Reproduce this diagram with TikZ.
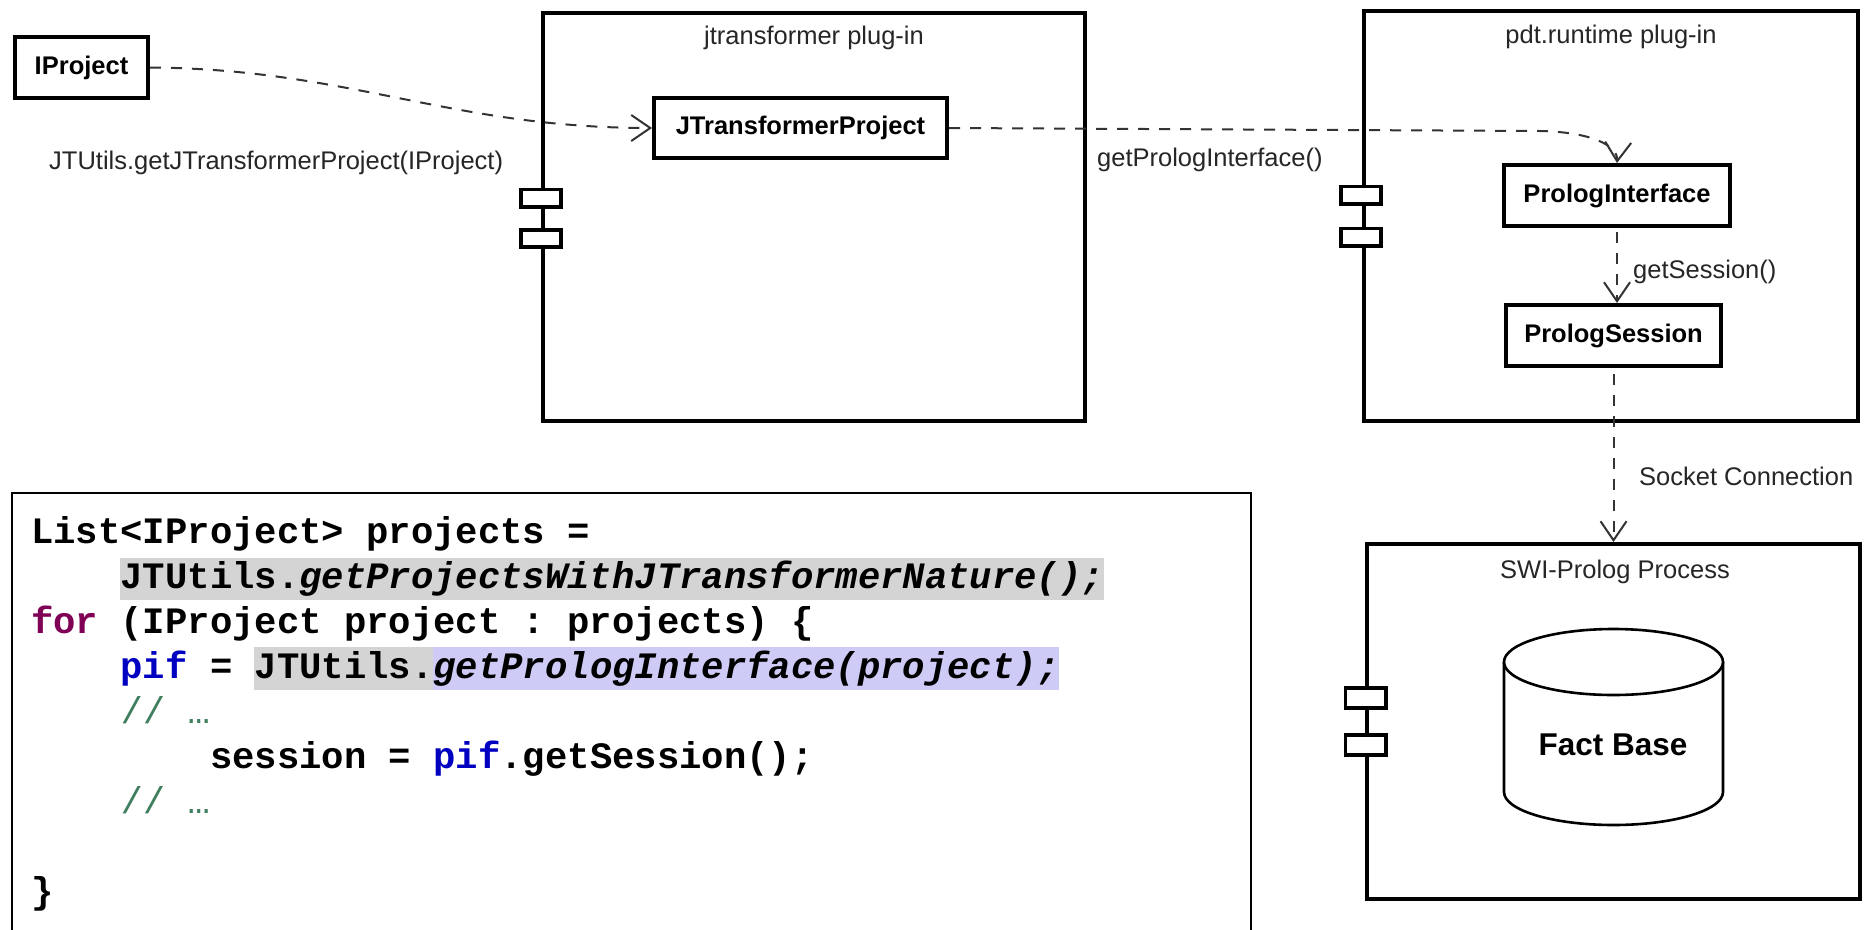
\documentclass[tikz,border=0pt]{standalone}
\usepackage{fontspec}
\setmainfont{Liberation Sans}
\setmonofont{Liberation Mono}
\usetikzlibrary{arrows.meta}

\definecolor{kwcol}{HTML}{7F0055}
\definecolor{fieldcol}{HTML}{0000C0}
\definecolor{cmtcol}{HTML}{3F7F5F}
\definecolor{hlgray}{HTML}{D4D4D4}
\definecolor{hlblue}{HTML}{CECCF6}

\newcommand\umltext{\fontsize{25.5pt}{30pt}\selectfont}
\newcommand\codetext{\fontsize{37.25pt}{45pt}\selectfont\ttfamily\bfseries}

\begin{document}
\begin{tikzpicture}[x=1pt, y=-1pt,
  component/.style={draw, line width=3.6pt, inner sep=0pt},
  compname/.style={font=\umltext, text=black!85, inner sep=0pt},
  classbox/.style={draw, line width=3.6pt, font=\umltext\bfseries, inner sep=0pt},
  tab/.style={draw, fill=white, line width=3.6pt, minimum width=40.4pt, minimum height=17.4pt, inner sep=0pt},
  dep/.style={draw=black!80, line width=2pt, dash pattern=on 11pt off 10pt,
    -{Straight Barb[length=19pt, width=26pt]}},
  lbl/.style={font=\umltext, text=black!85, inner sep=0pt, anchor=west},
  code/.style={font=\codetext, inner sep=0pt, anchor=base west},
  dbline/.style={line width=2.6pt, fill=white},
]
\path[use as bounding box, fill=white] (0,0) rectangle (1868,929);

% ---------- source listing ----------
\fill[hlgray] (120,558) rectangle (1104,600);
\fill[hlgray] (254,647) rectangle (433,690);
\fill[hlblue] (433,647) rectangle (1059,690);
\draw[line width=2.6pt] (12,935) -- (12,493) -- (1251,493) -- (1251,935);

\node[code] (c1) at (31,543) {List<IProject> projects =};
\node[code] (c2) at (120.4,588) {JTUtils.\itshape getProjectsWithJTransformerNature();};
\node[code] (c3) at (31,633) {{\color{kwcol}for} (IProject project : projects) \{};
\node[code] (c4) at (120.4,678) {{\color{fieldcol}pif} = JTUtils.\itshape getPrologInterface(project);};
\node[code] (c5) at (120.4,723) {\mdseries\color{cmtcol}// …};
\node[code] (c6) at (209.8,768) {session = {\color{fieldcol}pif}.getSession();};
\node[code] (c7) at (120.4,813) {\mdseries\color{cmtcol}// …};
\node[code] (c8) at (31,903) {\}};

% ---------- components ----------
\node[component, minimum width=542.4pt, minimum height=408.4pt] (jt) at (814,217) {};
\node[component, minimum width=494.4pt, minimum height=410.4pt] (pdt) at (1611,216) {};
\node[component, minimum width=493.4pt, minimum height=355.4pt] (swi) at (1613.5,721.5) {};

\node[compname] (jtname) at (814,38) {jtransformer plug-in};
\node[compname] (pdtname) at (1611,37) {pdt.runtime plug-in};
\node[compname] (swiname) at (1615,572) {SWI-Prolog Process};

\node[tab] (jttab1) at (541,198) {};
\node[tab] (jttab2) at (541,238.5) {};
\node[tab] (pdttab1) at (1361,195) {};
\node[tab] (pdttab2) at (1361,237) {};
\node[tab, minimum height=20.4pt] (switab1) at (1365.5,698) {};
\node[tab, minimum height=20.4pt] (switab2) at (1365.5,745) {};

% ---------- classes ----------
\node[classbox, minimum width=133.4pt, minimum height=61.4pt] (ip) at (81.5,67.5) {IProject};
\node[classbox, minimum width=293.4pt, minimum height=60.4pt] (jtp) at (800.5,128) {JTransformerProject};
\node[classbox, minimum width=226.4pt, minimum height=61.4pt] (pi) at (1617,195.5) {PrologInterface};
\node[classbox, minimum width=215.4pt, minimum height=61.4pt] (ps) at (1613.5,335.5) {PrologSession};

% fact base cylinder
\draw[dbline] (1504,662) -- (1504,792)
  arc[start angle=180, end angle=360, x radius=109.5pt, y radius=33pt] -- (1723,662);
\draw[dbline] (1613.5,662) ellipse [x radius=109.5pt, y radius=33pt];
\node[font=\fontsize{31.5pt}{36pt}\selectfont\bfseries, inner sep=0pt] (fb) at (1613,745) {Fact Base};

% ---------- dependencies ----------
\draw[dep] (ip.east) .. controls (350,69) and (450,128) .. (jtp.west);
\coordinate (bend) at (1540,131);
\draw[dep] (jtp.east) -- (bend) .. controls (1590,132) and (1618,145) .. (pi.north);
\draw[dep, shorten <=4pt] (pi.south) -- (pi.south |- ps.north);
\draw[dep, shorten <=6pt] (ps.south) -- (ps.south |- swi.north);

\node[lbl] (l1) at (49,163) {JTUtils.getJTransformerProject(IProject)};
\node[lbl] (l2) at (1097,160) {getPrologInterface()};
\node[lbl] (l3) at (1633,272) {getSession()};
\node[lbl] (l4) at (1639,476) {Socket Connection};
\end{tikzpicture}
\end{document}
